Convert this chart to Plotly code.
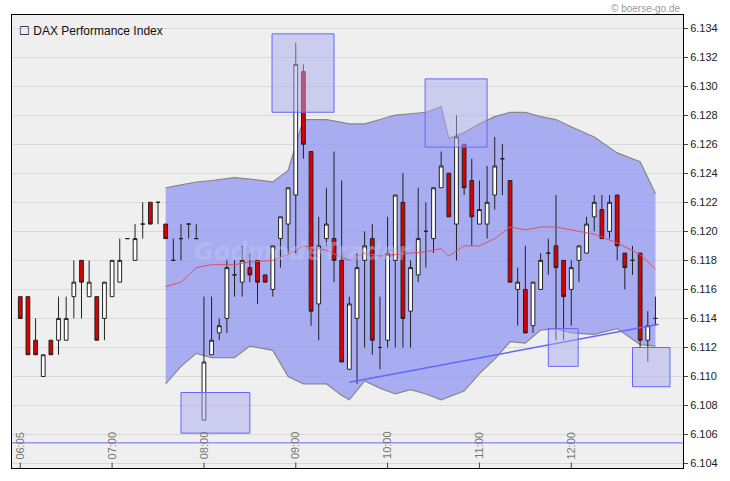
import plotly.graph_objects as go

opens = [6.1155,6.1155,6.1125,6.1100,6.1125,6.1125,6.1125,6.1155,6.1180,6.1155,6.1155,6.1140,6.1155,6.1165,6.1195,6.1180,6.1205,6.1220,6.1220,6.1205,
         6.1180,6.1195,6.1205,6.1195,6.1070,6.1115,6.1130,6.1140,6.1170,6.1165,6.1175,6.1180,6.1170,6.1160,6.1195,6.1205,6.1225,6.1310,6.1255,6.1150,
         6.1195,6.1195,6.1180,6.1105,6.1140,6.1180,6.1195,6.1120,6.1125,6.1180,6.1220,6.1145,6.1170,6.1200,6.1195,6.1230,6.1240,6.1205,6.1260,6.1235,
         6.1205,6.1205,6.1225,6.1250,6.1235,6.1160,6.1160,6.1135,6.1160,6.1185,6.1190,6.1180,6.1160,6.1180,6.1185,6.1210,6.1215,6.1200,6.1225,6.1185,
         6.1180,6.1185,6.1125,6.1140]
highs = [6.1155,6.1155,6.1140,6.1115,6.1125,6.1155,6.1155,6.1180,6.1180,6.1180,6.1155,6.1165,6.1180,6.1195,6.1195,6.1205,6.1220,6.1220,6.1220,6.1205,
         6.1195,6.1205,6.1205,6.1205,6.1155,6.1155,6.1140,6.1180,6.1180,6.1190,6.1185,6.1180,6.1170,6.1190,6.1210,6.1230,6.1330,6.1315,6.1255,6.1210,
         6.1230,6.1255,6.1235,6.1155,6.1185,6.1200,6.1205,6.1155,6.1210,6.1225,6.1240,6.1180,6.1230,6.1220,6.1230,6.1255,6.1240,6.1280,6.1260,6.1250,
         6.1235,6.1245,6.1265,6.1260,6.1235,6.1175,6.1190,6.1165,6.1185,6.1195,6.1225,6.1180,6.1180,6.1190,6.1210,6.1225,6.1225,6.1225,6.1225,6.1185,
         6.1190,6.1185,6.1145,6.1155]
lows = [6.1140,6.1115,6.1115,6.1100,6.1115,6.1115,6.1125,6.1140,6.1140,6.1155,6.1125,6.1125,6.1155,6.1165,6.1195,6.1180,6.1195,6.1205,6.1205,6.1195,
        6.1180,6.1180,6.1195,6.1195,6.1070,6.1115,6.1125,6.1130,6.1155,6.1155,6.1165,6.1150,6.1165,6.1155,6.1175,6.1185,6.1185,6.1250,6.1135,6.1125,
        6.1190,6.1165,6.1110,6.1105,6.1095,6.1120,6.1115,6.1105,6.1120,6.1120,6.1120,6.1120,6.1165,6.1175,6.1185,6.1230,6.1210,6.1180,6.1225,6.1190,
        6.1205,6.1195,6.1215,6.1225,6.1165,6.1135,6.1130,6.1130,6.1160,6.1170,6.1125,6.1125,6.1135,6.1165,6.1185,6.1200,6.1195,6.1195,6.1180,6.1160,
        6.1170,6.1120,6.1110,6.1135]
closes = [6.1140,6.1115,6.1115,6.1115,6.1115,6.1140,6.1140,6.1165,6.1165,6.1165,6.1125,6.1165,6.1180,6.1180,6.1195,6.1195,6.1205,6.1205,6.1220,6.1195,
          6.1180,6.1195,6.1205,6.1195,6.1110,6.1125,6.1135,6.1175,6.1170,6.1180,6.1170,6.1165,6.1165,6.1190,6.1210,6.1230,6.1315,6.1260,6.1145,6.1190,
          6.1205,6.1180,6.1110,6.1150,6.1175,6.1190,6.1125,6.1120,6.1185,6.1225,6.1140,6.1175,6.1195,6.1200,6.1230,6.1245,6.1210,6.1265,6.1230,6.1210,
          6.1215,6.1220,6.1245,6.1250,6.1165,6.1165,6.1130,6.1165,6.1180,6.1185,6.1175,6.1155,6.1175,6.1190,6.1205,6.1220,6.1195,6.1220,6.1190,6.1175,
          6.1180,6.1125,6.1135,6.1140]
idx = list(range(len(opens)))

band_x = [19,21,23,25,28,30,33,35,37,40,42,43,45,47,49,51,53,55,56,58,60,62,64,66,68,70,72,75,78,81,83]
band_upper = [6.1230,6.1232,6.1234,6.1235,6.1237,6.1236,6.1234,6.1242,6.1277,6.1277,6.1275,6.1274,6.1274,6.1277,6.1280,6.1281,
              6.1282,6.1286,6.1264,6.1268,6.1274,6.1279,6.1282,6.1282,6.1279,6.1277,6.1272,6.1265,6.1254,6.1248,6.1226]
band_lower = [6.1095,6.1107,6.1116,6.1113,6.1113,6.1121,6.1118,6.1100,6.1095,6.1095,6.1087,6.1084,6.1097,6.1092,6.1088,6.1091,
              6.1088,6.1084,6.1086,6.1090,6.1102,6.1112,6.1124,6.1123,6.1132,6.1133,6.1130,6.1129,6.1133,6.1122,6.1121]
ma = [6.1162,6.1165,6.1175,6.1177,6.1177,6.1179,6.1180,6.1184,6.1190,6.1187,6.1182,6.1180,6.1185,6.1183,6.1184,6.1185,
      6.1186,6.1188,6.1183,6.1190,6.1190,6.1195,6.1203,6.1201,6.1203,6.1203,6.1201,6.1198,6.1192,6.1184,6.1174]

trend_x = [43, 83.4]
trend_y = [6.1096, 6.1136]

boxes = [(21, 30, 6.1061, 6.1089), (32.9, 41.0, 6.1282, 6.1336), (52.9, 61.0, 6.1258, 6.1305),
         (69.0, 72.9, 6.1107, 6.1133), (80.0, 84.9, 6.1093, 6.1120)]

time_idx = [0, 12, 24, 36, 48, 60, 72]
time_labels = ["06:05", "07:00", "08:00", "09:00", "10:00", "11:00", "12:00"]
yticks = [6.104 + 0.002 * i for i in range(16)]

fig = go.Figure()
fig.add_trace(go.Scatter(x=band_x, y=ma, mode="lines", line=dict(color="#e05060", width=1),
                         hoverinfo="skip", showlegend=False))
fig.add_trace(go.Scatter(x=trend_x, y=trend_y, mode="lines", line=dict(color="#6666ff", width=1.5),
                         hoverinfo="skip", showlegend=False))
fig.add_trace(go.Candlestick(x=idx, open=opens, high=highs, low=lows, close=closes, whiskerwidth=0,
                             increasing=dict(fillcolor="white", line=dict(color="#222222", width=1)),
                             decreasing=dict(fillcolor="#dd0000", line=dict(color="#222222", width=1)),
                             showlegend=False))

shapes = []
pts = [f"{x},{y}" for x, y in zip(band_x, band_upper)] + [f"{x},{y}" for x, y in zip(band_x[::-1], band_lower[::-1])]
shapes.append(dict(type="path", xref="x", yref="y", path="M" + " L".join(pts) + " Z",
                   fillcolor="rgba(140,145,240,0.72)", line=dict(width=0), layer="between"))
shapes.append(dict(type="path", xref="x", yref="y",
                   path="M" + " L".join(f"{x},{y}" for x, y in zip(band_x, band_upper)),
                   line=dict(color="#888888", width=1.2), layer="between"))
shapes.append(dict(type="path", xref="x", yref="y",
                   path="M" + " L".join(f"{x},{y}" for x, y in zip(band_x, band_lower)),
                   line=dict(color="#888888", width=1.2), layer="between"))
for x0, x1, y0, y1 in boxes:
    shapes.append(dict(type="rect", xref="x", yref="y", x0=x0, x1=x1, y0=y0, y1=y1,
                       fillcolor="rgba(170,170,240,0.5)", line=dict(color="#6666ff", width=1), layer="above"))
shapes.append(dict(type="line", xref="paper", yref="y", x0=0, x1=1, y0=6.10543, y1=6.10543,
                   line=dict(color="#6666ff", width=1)))
for t in time_idx:
    shapes.append(dict(type="line", xref="x", yref="paper", x0=t, x1=t, y0=0, y1=0.012,
                       line=dict(color="#444", width=1)))

ann = []
for t, lab in zip(time_idx, time_labels):
    ann.append(dict(x=t, y=0.05, xref="x", yref="paper", text=lab, textangle=-90, showarrow=False,
                    font=dict(size=11, color="#777", family="Liberation Sans"), xanchor="center", yanchor="middle"))
ann.append(dict(x=0.008, y=0.985, xref="paper", yref="paper", text="☐ DAX Performance Index", showarrow=False,
                xanchor="left", yanchor="top", font=dict(size=12, color="#111", family="Liberation Sans")))
ann.append(dict(x=1.0, y=1.0, xref="paper", yref="paper", yshift=7, text="© boerse-go.de", showarrow=False,
                xanchor="right", yanchor="middle", font=dict(size=10, color="#999", family="Liberation Sans")))
ann.append(dict(x=37, y=6.1186, xref="x", yref="y", text="<b><i>GodmodeTrader</i></b>", showarrow=False,
                font=dict(size=24, color="rgba(195,200,245,0.45)", family="DejaVu Sans")))

fig.update_layout(
    width=730, height=481, margin=dict(l=12, r=47, t=15, b=13, autoexpand=False),
    paper_bgcolor="white", plot_bgcolor="#efefef",
    shapes=shapes, annotations=ann, showlegend=False,
    xaxis=dict(range=[-1.08, 86.6], showgrid=False, showticklabels=False, zeroline=False, automargin=False,
               rangeslider=dict(visible=False), showline=True, linecolor="black", linewidth=1, mirror=True),
    yaxis=dict(side="right", range=[6.1037, 6.1349], tickvals=yticks, tickformat=".3f", automargin=False,
               ticks="outside", ticklen=4, tickcolor="#444", showgrid=True, gridcolor="#d9d9d9",
               zeroline=False, showline=True, linecolor="black", linewidth=1, mirror=True,
               tickfont=dict(size=11, color="#222", family="Liberation Sans")),
)
fig.write_html("out.html", config={"displayModeBar": False},
               post_script="document.body.style.margin='0';")
